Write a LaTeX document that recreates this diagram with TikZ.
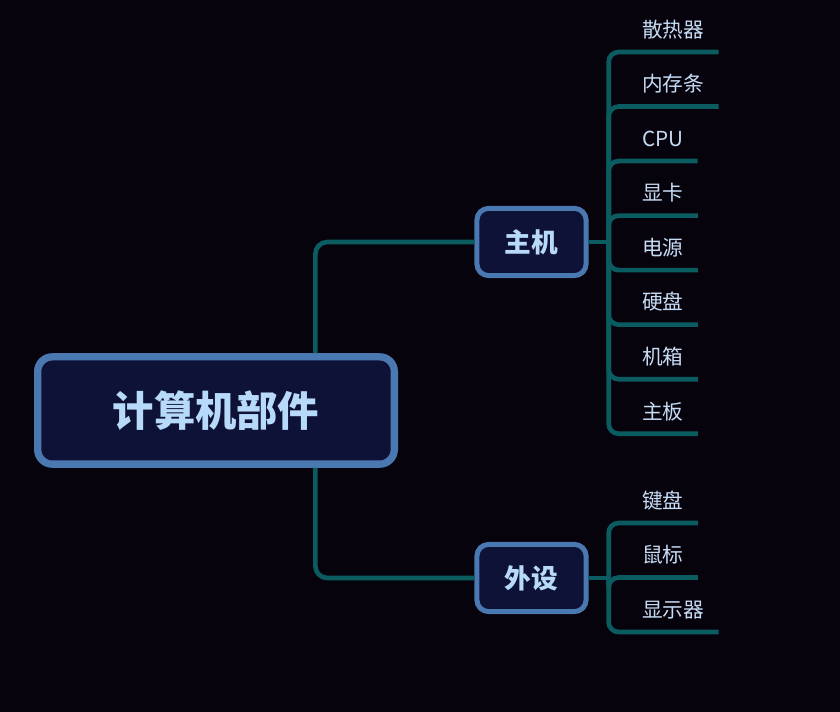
\documentclass[tikz,border=0pt]{standalone}
\usepackage{fontspec}
\setmainfont{Noto Sans CJK SC}
\usepackage{xcolor}
\definecolor{bgdark}{HTML}{07030C}
\definecolor{nodefill}{HTML}{0E1236}
\definecolor{nodeborder}{HTML}{4A78B0}
\definecolor{nodetext}{HTML}{B8DAFA}
\definecolor{leaftext}{HTML}{C6DCF5}
\definecolor{linkteal}{HTML}{0A5C60}
\usetikzlibrary{positioning}

\begin{document}
\begin{tikzpicture}[
	x=0.75pt, y=-0.75pt,
	root/.style={rectangle, draw=nodeborder, fill=nodefill, rounded corners=11pt, line width=5.5pt, minimum width=267.5pt, minimum height=80.5pt, font=\fontsize{31}{36}\selectfont\bfseries, text=nodetext},
	hub/.style={rectangle, draw=nodeborder, fill=nodefill, rounded corners=9pt, line width=3.75pt, minimum width=82pt, minimum height=50.5pt, font=\fontsize{20}{24}\selectfont\bfseries, text=nodetext},
	leaf/.style={rectangle, inner sep=0pt, text height=29.7pt, text depth=10.8pt, font=\fontsize{15.5}{18}\selectfont, text=leaftext, execute at begin node={\hspace*{25.5pt}}, execute at end node={\hspace*{10.5pt}}},
	link/.style={draw=linkteal, line width=3.5pt}
	]
	\fill[bgdark] (0,0) rectangle (840,712);
	\useasboundingbox (0,0) rectangle (840,712);

	\node[root] (bujian) at (216,410.5) {计算机部件};
	\node[hub] (zhuji) at (531.5,242) {主机};
	\node[hub] (waishe) at (531.5,578) {外设};

	% leaves of the first hub
	\node[leaf, anchor=south west] (sanreqi) at (608,52) {散热器};
	\node[leaf, below=0pt of sanreqi.south west, anchor=north west] (neicun) {内存条};
	\node[leaf, below=0pt of neicun.south west, anchor=north west] (cpu) {CPU};
	\node[leaf, below=0pt of cpu.south west, anchor=north west] (xianka) {显卡};
	\node[leaf, below=0pt of xianka.south west, anchor=north west] (dianyuan) {电源};
	\node[leaf, below=0pt of dianyuan.south west, anchor=north west] (yingpan) {硬盘};
	\node[leaf, below=0pt of yingpan.south west, anchor=north west] (jixiang) {机箱};
	\node[leaf, below=0pt of jixiang.south west, anchor=north west] (zhuban) {主板};

	% leaves of the second hub
	\node[leaf, anchor=south west] (jianpan) at (608,523) {键盘};
	\node[leaf, below=0pt of jianpan.south west, anchor=north west] (shubiao) {鼠标};
	\node[leaf, below=0pt of shubiao.south west, anchor=north west] (xianshiqi) {显示器};

	\coordinate (zhuji-fork) at ([xshift=15pt]zhuji.east);
	\coordinate (waishe-fork) at ([xshift=15pt]waishe.east);

	\draw[link, rounded corners=9pt] ([xshift=-62pt]bujian.north east) |- (zhuji.west);
	\draw[link, rounded corners=9pt] ([xshift=-62pt]bujian.south east) |- (waishe.west);
	\draw[link] (zhuji.east) -- (zhuji-fork);
	\draw[link] (waishe.east) -- (waishe-fork);

	\foreach \leaf in {sanreqi,neicun,cpu,xianka,dianyuan,yingpan,jixiang,zhuban}
		\draw[link, rounded corners=7.5pt] (zhuji-fork) |- (\leaf.south east);
	\foreach \leaf in {jianpan,shubiao,xianshiqi}
		\draw[link, rounded corners=7.5pt] (waishe-fork) |- (\leaf.south east);
\end{tikzpicture}
\end{document}
